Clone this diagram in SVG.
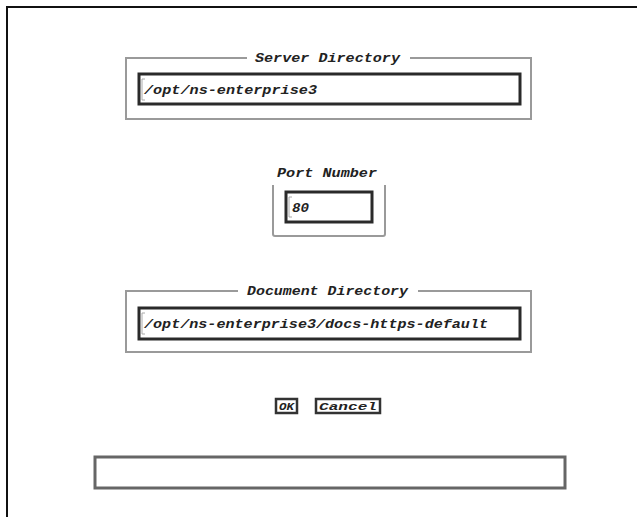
<svg xmlns="http://www.w3.org/2000/svg" width="637" height="517" viewBox="0 0 637 517">
<style>
.frame{fill:none;stroke:#111;stroke-width:2}
.group{fill:none;stroke:#9a9a9a;stroke-width:2}
.field{fill:#fff;stroke:#2a2a2a;stroke-width:3}
.fieldsh{fill:none;stroke:#a0a0a0;stroke-width:1}
.btn{fill:#fff;stroke:#333;stroke-width:2.5}
.status{fill:#fff;stroke:#666;stroke-width:3}
.t{font-family:"Liberation Mono","DejaVu Sans Mono",monospace;font-style:italic;font-weight:bold;fill:#222}
.title{font-size:13px}
.val{font-size:13px}
.bt{font-size:11px}
.cur{fill:none;stroke:#aaa;stroke-width:1}
</style>
<rect width="637" height="517" fill="#fff"/>
<path class="frame" d="M7,520 V7 H640"/>

<g id="server-directory">
<path class="group" d="M247,58 H126 V119 H531 V58 H410"/>
<text class="t title" x="255" y="62" textLength="145" lengthAdjust="spacingAndGlyphs">Server Directory</text>
<rect class="field" x="139" y="74" width="381" height="30"/>
<path class="cur" d="M142,79 V100 M142,79 H145 M142,100 H145"/>
<text class="t val" x="144" y="94" textLength="173" lengthAdjust="spacingAndGlyphs">/opt/ns-enterprise3</text>
</g>

<g id="port-number">
<path class="group" d="M273,185 V234 Q273,236 275,236 H383 Q385,236 385,234 V185"/>
<text class="t title" x="277" y="177" textLength="100" lengthAdjust="spacingAndGlyphs">Port Number</text>
<rect class="field" x="286" y="192" width="86" height="30"/>
<path class="cur" d="M289,197 V217 M289,197 H292 M289,217 H292"/>
<text class="t val" x="292" y="212" textLength="17" lengthAdjust="spacingAndGlyphs">80</text>
</g>

<g id="document-directory">
<path class="group" d="M238,291 H126 V352 H531 V291 H418"/>
<text class="t title" x="247" y="295" textLength="161" lengthAdjust="spacingAndGlyphs">Document Directory</text>
<rect class="field" x="139" y="308" width="381" height="31"/>
<path class="cur" d="M142,313 V334 M142,313 H145 M142,334 H145"/>
<text class="t val" x="144" y="328" textLength="344" lengthAdjust="spacingAndGlyphs">/opt/ns-enterprise3/docs-https-default</text>
</g>

<g id="ok-button">
<rect class="btn" x="276" y="399" width="21" height="14"/>
<text class="t bt" x="279" y="410" textLength="15" lengthAdjust="spacingAndGlyphs">OK</text>
</g>

<g id="cancel-button">
<rect class="btn" x="316" y="399" width="64" height="14"/>
<text class="t bt" x="319" y="410" textLength="58" lengthAdjust="spacingAndGlyphs">Cancel</text>
</g>

<g id="status-bar">
<rect class="status" x="95" y="457" width="470" height="31"/>
</g>
<g id="connectors"/>
</svg>
